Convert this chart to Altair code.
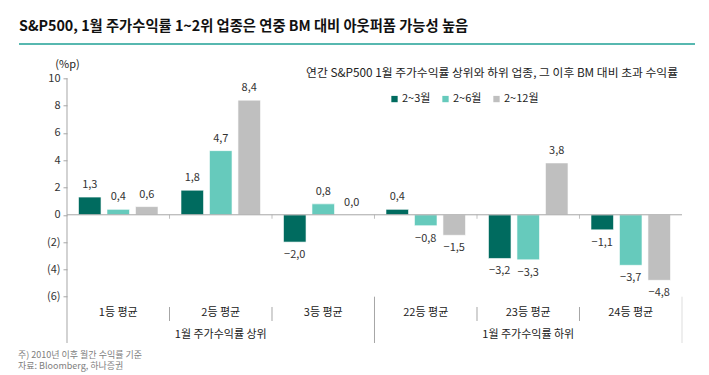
import altair as alt
import pandas as pd

# ---- data ----
categories = ["1등 평균", "2등 평균", "3등 평균", "22등 평균", "23등 평균", "24등 평균"]
series = ["2~3월", "2~6월", "2~12월"]
v_2_3 = [1.3, 1.8, -2.0, 0.4, -3.2, -1.1]
v_2_6 = [0.4, 4.7, 0.8, -0.8, -3.3, -3.7]
v_2_12 = [0.6, 8.4, 0.0, -1.5, 3.8, -4.8]
group_labels = ["1월 주가수익률 상위", "1월 주가수익률 하위"]
group_center_idx = [1, 4]
y_ticks = [-6, -4, -2, 0, 2, 4, 6, 8, 10]
colors = ["#006B5F", "#66CABC", "#BFBFBF"]

title_text = "S&P500, 1월 주가수익률 1~2위 업종은 연중 BM 대비 아웃퍼폼 가능성 높음"
subtitle_text = "연간 S&P500 1월 주가수익률 상위와 하위 업종, 그 이후 BM 대비 초과 수익률"
unit_text = "(%p)"
note1 = "주) 2010년 이후 월간 수익률 기준"
note2 = "자료: Bloomberg, 하나증권"

FONT = "Noto Sans CJK KR"

rows = []
for si, (s, vals) in enumerate(zip(series, [v_2_3, v_2_6, v_2_12])):
    for ci, (c, v) in enumerate(zip(categories, vals)):
        lab = f"{abs(v):.1f}".replace(".", ",")
        if v < 0:
            lab = "\u2212" + lab
        rows.append({"cat": c, "ci": ci, "series": s, "si": si, "value": v, "label": lab})
df = pd.DataFrame(rows)

W, H = 615, 218.4
n = len(categories)
XS = alt.Scale(domain=[-0.5, n - 0.5], nice=False, zero=False)
YS = alt.Scale(domain=[-6, 10], nice=False, zero=False)
STEP, BW = 0.278, 0.22   # bar step / bar width, in category units

YAXIS = alt.Axis(values=y_ticks, domain=False, grid=False, title=None,
                 labelOverlap=False,
                 tickSize=4, tickColor="#A6A6A6", labelPadding=3,
                 labelFont=FONT, labelFontSize=11, labelColor="#333333",
                 labelExpr="datum.value < 0 ? '(' + abs(datum.value) + ')' : datum.value")


def yq(field):
    return alt.Y(field, title=None, scale=YS, axis=YAXIS)


base = alt.Chart(df).transform_calculate(
    xc=f"datum.ci + (datum.si - 1) * {STEP}",
).transform_calculate(
    xl=f"datum.xc - {BW / 2}", xr=f"datum.xc + {BW / 2}",
)

bars = base.mark_bar(stroke="white", strokeWidth=0.6).encode(
    x=alt.X("xl:Q", scale=XS, axis=None), x2="xr:Q", y=yq("value:Q"), y2=alt.datum(0),
    color=alt.Color("series:N", sort=series,
                    scale=alt.Scale(domain=series, range=colors),
                    legend=alt.Legend(orient="none", legendX=322, legendY=15,
                                      direction="horizontal", title=None,
                                      symbolType="square", symbolSize=40,
                                      symbolStrokeWidth=0,
                                      labelFont=FONT, labelFontSize=11,
                                      labelColor="#222222", labelOffset=2,
                                      columnPadding=9)),
)

lab_pos = base.transform_filter("datum.value >= 0").mark_text(
    dy=-12, font=FONT, fontSize=11, color="#333333").encode(
    x=alt.X("xc:Q", scale=XS, axis=None), y=yq("value:Q"), text="label:N")
lab_neg = base.transform_filter("datum.value < 0").mark_text(
    dy=13, font=FONT, fontSize=11, color="#333333").encode(
    x=alt.X("xc:Q", scale=XS, axis=None), y=yq("value:Q"), text="label:N")

zero_line = alt.Chart(pd.DataFrame({"value": [0]})).mark_rule(
    color="#A6A6A6", strokeWidth=1).encode(y=yq("value:Q"))

cat_df = pd.DataFrame({"cat": categories, "ci": list(range(n))})
bounds = [i + 0.5 for i in range(n)]  # right edge of each category

one = pd.DataFrame({"t": [title_text]})

# left border line (axis line extended into the table)
left_line = alt.Chart(one).mark_rule(color="#A6A6A6", strokeWidth=1).encode(
    x=alt.value(0), y=alt.value(0), y2=alt.value(264.7))

cat_labels = alt.Chart(cat_df).mark_text(
    font=FONT, fontSize=11, color="#222222", baseline="middle").encode(
    x=alt.X("ci:Q", scale=XS, axis=None), y=alt.value(234.7), text="cat:N")

small_b = pd.DataFrame({"b": [bounds[0], bounds[1], bounds[3], bounds[4]]})
small_sep = alt.Chart(small_b).mark_rule(color="#A6A6A6", strokeWidth=1).encode(
    x=alt.X("b:Q", scale=XS, axis=None), y=alt.value(228.7), y2=alt.value(242.7))

tick_b = pd.DataFrame({"b": bounds[:-1], "value": [0] * (n - 1)})
zero_ticks = alt.Chart(tick_b).mark_tick(
    orient="vertical", size=4, yOffset=2, color="#A6A6A6", thickness=1).encode(
    x=alt.X("b:Q", scale=XS, axis=None), y=yq("value:Q"))

big_sep = alt.Chart(pd.DataFrame({"b": [bounds[2]]})).mark_rule(
    color="#A6A6A6", strokeWidth=1).encode(
    x=alt.X("b:Q", scale=XS, axis=None), y=alt.value(H), y2=alt.value(264.7))
right_sep = alt.Chart(pd.DataFrame({"b": [bounds[5]]})).mark_rule(
    color="#DDDDDD", strokeWidth=1).encode(
    x=alt.X("b:Q", scale=XS, axis=None), y=alt.value(H), y2=alt.value(264.7))

grp_df = pd.DataFrame({"ci": group_center_idx, "label": group_labels})
grp_labels = alt.Chart(grp_df).mark_text(
    font=FONT, fontSize=11, color="#222222", baseline="middle").encode(
    x=alt.X("ci:Q", scale=XS, axis=None), y=alt.value(256.7), text="label:N")

title = alt.Chart(one).mark_text(
    font=FONT, fontSize=14.3, fontWeight="bold", color="#111111",
    align="left", baseline="alphabetic").encode(
    x=alt.value(-48), y=alt.value(-46.8), text="t:N")
underline = alt.Chart(one).mark_rule(color="#1FA096", strokeWidth=1.5).encode(
    x=alt.value(-48), x2=alt.value(628), y=alt.value(-34.3))
subtitle = alt.Chart(pd.DataFrame({"t": [subtitle_text]})).mark_text(
    font=FONT, fontSize=11.8, color="#222222", align="right", baseline="middle").encode(
    x=alt.value(611), y=alt.value(-5.5), text="t:N")
unit = alt.Chart(pd.DataFrame({"t": [unit_text]})).mark_text(
    font=FONT, fontSize=11, color="#222222", align="center", baseline="middle").encode(
    x=alt.value(0.5), y=alt.value(-13.3), text="t:N")
note_a = alt.Chart(pd.DataFrame({"t": [note1]})).mark_text(
    font=FONT, fontSize=9, color="#808080", align="left", baseline="middle").encode(
    x=alt.value(-49), y=alt.value(276.5), text="t:N")
note_b = alt.Chart(pd.DataFrame({"t": [note2]})).mark_text(
    font=FONT, fontSize=9, color="#808080", align="left", baseline="middle").encode(
    x=alt.value(-49), y=alt.value(288), text="t:N")

chart = alt.layer(
    left_line, bars, zero_line, zero_ticks, lab_pos, lab_neg,
    cat_labels, small_sep, big_sep, right_sep, grp_labels,
    title, underline, subtitle, unit, note_a, note_b,
).properties(
    width=W, height=H,
    autosize=alt.AutoSizeParams(type="none"),
    padding={"left": 59, "top": 70.3, "right": 19, "bottom": 78},
).configure_view(stroke=None).configure_axis(labelOverlap=False)

chart.save("out.html", embed_options={"renderer": "svg", "actions": False})
